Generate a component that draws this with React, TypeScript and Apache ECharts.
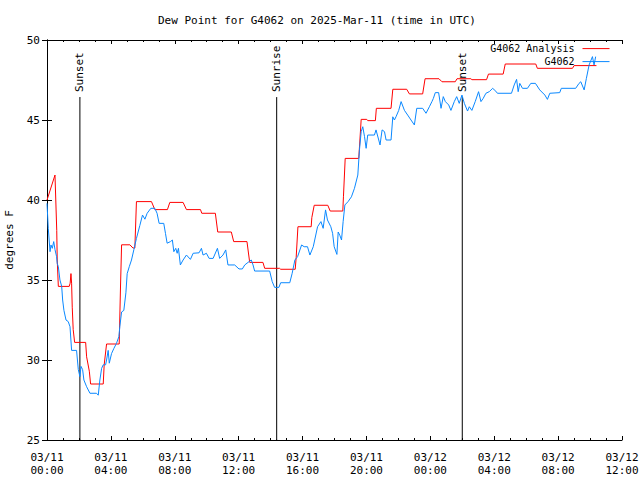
import React, { useEffect, useRef } from "react";
import * as echarts from "echarts";

// Hours since 2025-03-11 00:00 UTC
const analysisHours = [0, 0.5, 0.61, 0.64, 0.71, 1.39, 1.45, 1.5, 1.54, 1.58, 1.64, 1.73, 2.42, 2.48, 2.65, 2.73, 3.52, 3.58, 3.73, 4.52, 4.6, 4.67, 5.19, 5.38, 5.5, 5.6, 6.54, 6.75, 7.54, 7.69, 8.52, 8.73, 9.61, 9.69, 10.54, 10.69, 11.54, 11.69, 12.52, 12.69, 13.52, 13.63, 14.56, 14.63, 15.54, 15.6, 15.71, 16.54, 16.58, 16.73, 17.58, 17.73, 18.52, 18.56, 18.67, 19.52, 19.67, 20.02, 20.08, 20.56, 20.62, 21.54, 21.65, 22.52, 22.69, 23.52, 23.67, 24.54, 24.73, 25.56, 25.67, 26.54, 26.6, 27.52, 27.64, 28.56, 28.69, 30.6, 30.7, 32.9, 33.0, 34.4];
const analysisTemps = [40.0, 41.56, 38.1, 36.25, 34.6, 34.6, 34.8, 35.4, 34.8, 33.3, 31.9, 31.1, 31.1, 30.2, 29.3, 28.5, 28.5, 29.7, 31.0, 31.0, 34.5, 37.2, 37.2, 37.0, 37.0, 39.9, 39.9, 39.4, 39.4, 39.85, 39.85, 39.4, 39.4, 39.17, 39.17, 38.0, 38.0, 37.4, 37.4, 36.1, 36.1, 35.73, 35.73, 35.67, 35.67, 36.4, 38.33, 38.33, 38.9, 39.67, 39.67, 39.31, 39.31, 40.2, 42.6, 42.6, 45.04, 45.04, 44.96, 44.96, 45.73, 45.73, 46.92, 46.92, 46.63, 46.63, 47.58, 47.58, 47.39, 47.39, 47.58, 47.58, 47.52, 47.52, 47.87, 47.87, 48.5, 48.5, 48.23, 48.23, 48.4, 48.4];

const obsHours = [0, 0.08, 0.19, 0.25, 0.33, 0.42, 0.5, 0.6, 0.64, 0.71, 0.81, 0.92, 0.98, 1.06, 1.19, 1.33, 1.44, 1.54, 1.85, 1.96, 2.06, 2.13, 2.23, 2.31, 2.48, 2.69, 3.1, 3.21, 3.31, 3.42, 3.52, 3.67, 3.73, 3.83, 3.9, 4.04, 4.19, 4.35, 4.5, 4.56, 4.67, 4.81, 4.94, 5.02, 5.15, 5.29, 5.44, 5.6, 5.81, 5.98, 6.13, 6.27, 6.5, 6.75, 6.89, 7.02, 7.31, 7.42, 7.52, 7.73, 7.85, 7.94, 8.06, 8.15, 8.23, 8.35, 8.52, 8.73, 8.98, 9.15, 9.52, 9.67, 9.77, 9.98, 10.15, 10.4, 10.67, 10.81, 11.02, 11.19, 11.33, 11.75, 12.02, 12.23, 12.38, 12.65, 12.79, 12.9, 13.0, 13.94, 14.1, 14.25, 14.52, 14.63, 15.2, 15.35, 15.52, 15.69, 15.94, 16.1, 16.31, 16.46, 16.67, 16.94, 17.15, 17.29, 17.44, 17.56, 17.77, 17.88, 17.98, 18.15, 18.23, 18.33, 18.44, 18.54, 18.65, 18.85, 19.06, 19.25, 19.46, 19.56, 19.67, 19.77, 19.88, 19.98, 20.08, 20.5, 20.6, 20.77, 20.85, 20.98, 21.13, 21.23, 21.54, 21.65, 21.75, 21.85, 22.02, 22.17, 22.38, 22.58, 22.79, 23.0, 23.15, 23.52, 23.73, 23.94, 24.1, 24.19, 24.31, 24.52, 24.67, 24.81, 24.94, 25.15, 25.29, 25.5, 25.65, 25.81, 25.98, 26.13, 26.33, 26.44, 26.6, 26.81, 27.02, 27.17, 27.31, 27.48, 27.69, 27.9, 28.1, 28.2, 29.08, 29.25, 29.4, 29.5, 29.6, 29.77, 30.08, 30.29, 30.58, 30.85, 31.17, 31.33, 31.48, 32.1, 32.2, 33.1, 33.31, 33.42, 33.63, 33.77, 33.94, 34.15, 34.25, 34.35];
const obsTemps = [39.79, 38.23, 36.77, 37.19, 36.98, 37.4, 36.9, 36.46, 36.04, 35.83, 35.0, 34.6, 33.75, 33.1, 32.5, 32.4, 32.08, 30.6, 30.6, 29.4, 28.96, 29.6, 29.4, 28.75, 28.33, 27.92, 27.92, 27.8, 28.75, 29.48, 29.7, 29.7, 30.0, 30.6, 29.8, 30.4, 30.73, 31.04, 31.46, 32.1, 33.0, 33.1, 34.2, 35.4, 35.83, 36.25, 36.9, 37.6, 38.4, 39.06, 38.8, 39.17, 39.48, 39.48, 39.17, 38.54, 38.54, 37.9, 37.3, 37.4, 37.5, 36.77, 36.98, 36.67, 36.98, 35.94, 36.25, 36.56, 36.29, 36.67, 36.7, 36.98, 36.56, 36.67, 36.35, 36.35, 36.98, 36.35, 36.56, 36.88, 35.94, 35.94, 35.69, 35.69, 35.94, 36.15, 36.25, 35.94, 35.56, 35.56, 34.9, 34.54, 34.54, 34.83, 34.83, 35.42, 36.25, 36.46, 37.19, 37.08, 37.08, 36.56, 37.08, 38.33, 38.65, 38.23, 39.38, 38.75, 38.33, 37.92, 37.08, 36.6, 38.0, 37.8, 37.5, 38.65, 39.69, 39.9, 40.2, 40.73, 41.56, 43.1, 44.27, 44.58, 43.96, 43.23, 44.06, 44.06, 44.38, 43.75, 43.44, 44.38, 44.27, 43.75, 43.75, 45.2, 45.0, 45.2, 45.6, 46.15, 45.6, 45.31, 45.0, 44.69, 45.73, 45.73, 45.42, 45.83, 46.15, 46.35, 46.71, 46.71, 45.73, 46.46, 46.15, 45.94, 45.6, 46.15, 46.46, 46.04, 46.56, 46.04, 45.56, 45.83, 45.6, 46.15, 46.77, 46.15, 46.35, 46.67, 46.77, 46.98, 46.8, 46.67, 46.67, 47.19, 47.54, 46.77, 47.29, 46.98, 46.98, 47.29, 47.29, 46.88, 46.56, 46.29, 46.67, 46.71, 46.98, 46.98, 47.29, 47.39, 46.88, 47.6, 48.44, 48.96, 48.44, 48.96];

const eventNames = ["Sunset", "Sunrise", "Sunset"];
const eventHours = [2.06, 14.38, 26.0];

const yTicks = [25, 30, 35, 40, 45, 50];

const FONT = "DejaVu Sans Mono";
const EVENT_TOP = 46.4;
const RED = "#ff0000";
const BLUE = "#0a88ff";

function xLabel(v: number): string {
  const day = 11 + Math.floor(v / 24);
  const hr = Math.round(v % 24);
  const hh = hr < 10 ? "0" + hr : "" + hr;
  return "03/" + day + "\n" + hh + ":00";
}

export default function App() {
  const ref = useRef<HTMLDivElement>(null);
  useEffect(() => {
    if (!ref.current) return;
    const chart = echarts.init(ref.current, undefined, { renderer: "svg" });
    const analysisData = analysisHours.map((h, i) => [h, analysisTemps[i]]);
    const obsData = obsHours.map((h, i) => [h, obsTemps[i]]);
    const eventSeries = eventHours.map((h, i) => ({
      type: "line",
      name: "ev" + i,
      silent: true,
      symbol: "circle",
      symbolSize: 1,
      showSymbol: true,
      itemStyle: { color: "#000" },
      lineStyle: { color: "#000", width: 1 },
      data: [
        {
          value: [h, EVENT_TOP],
          label: {
            show: true,
            formatter: eventNames[i],
            position: "top",
            distance: 5,
            rotate: 90,
            align: "left",
            verticalAlign: "middle",
            color: "#000",
            fontFamily: FONT,
            fontSize: 11,
          },
        },
        [h, yTicks[0]],
      ],
      z: 1,
    }));
    const axisCommon = {
      type: "value",
      min: 0,
      max: 36,
      interval: 4,
      axisLine: { show: true, lineStyle: { color: "#000", width: 1 } },
      axisTick: { show: true, inside: true, length: 4, lineStyle: { color: "#000" } },
      minorTick: { show: true, splitNumber: 4, length: 2, lineStyle: { color: "#000" } },
      splitLine: { show: false },
      minorSplitLine: { show: false },
    };
    const yCommon = {
      type: "value",
      min: yTicks[0],
      max: yTicks[yTicks.length - 1],
      interval: 5,
      axisLine: { show: true, lineStyle: { color: "#000", width: 1 } },
      axisTick: { show: true, inside: true, length: 5, lineStyle: { color: "#000" } },
      splitLine: { show: false },
    };
    const legendCommon = {
      right: 30,
      padding: 0,
      align: "right",
      itemWidth: 27,
      itemHeight: 14,
      itemStyle: { opacity: 0 },
      lineStyle: { width: 1 },
      textStyle: { fontFamily: FONT, fontSize: 10, color: "#000", padding: [0, 3, 0, 0] },
    };
    chart.setOption({
      animation: false,
      backgroundColor: "#fff",
      title: {
        text: "Dew Point for G4062 on 2025-Mar-11 (time in UTC)",
        left: 153,
        top: 10,
        textStyle: { fontFamily: FONT, fontSize: 11, fontWeight: "normal", color: "#000" },
      },
      legend: [
        {
          ...legendCommon,
          top: 43,
          data: ["G4062 Analysis"],
        },
        {
          ...legendCommon,
          top: 56,
          data: ["G4062"],
        },
      ],
      grid: { left: 47, right: 18, top: 40, bottom: 40, containLabel: false, outerBoundsMode: "none" },
      xAxis: [
        {
          ...axisCommon,
          position: "bottom",
          axisLabel: {
            show: true,
            formatter: xLabel,
            color: "#000",
            fontFamily: FONT,
            fontSize: 11,
            lineHeight: 13,
            margin: 11,
          },
        },
        { ...axisCommon, position: "top", axisLabel: { show: false } },
      ],
      yAxis: [
        {
          ...yCommon,
          position: "left",
          name: "degrees F",
          nameLocation: "middle",
          nameGap: 32,
          nameTextStyle: { fontFamily: FONT, fontSize: 11, color: "#000" },
          axisLabel: { color: "#000", fontFamily: FONT, fontSize: 11, margin: 7 },
        },
        { ...yCommon, position: "right", axisLabel: { show: false } },
      ],
      series: [
        ...eventSeries,
        {
          type: "line",
          name: "G4062 Analysis",
          data: analysisData,
          showSymbol: false,
          symbol: "none",
          color: RED,
          itemStyle: { color: RED },
          lineStyle: { color: RED, width: 1 },
          z: 2,
        },
        {
          type: "line",
          name: "G4062",
          data: obsData,
          showSymbol: false,
          symbol: "none",
          color: BLUE,
          itemStyle: { color: BLUE },
          lineStyle: { color: BLUE, width: 1 },
          z: 3,
        },
      ],
    });
    return () => chart.dispose();
  }, []);
  return (
    <div
      ref={ref}
      style={{ position: "fixed", left: 0, top: 0, width: 640, height: 480, background: "#fff" }}
    />
  );
}
